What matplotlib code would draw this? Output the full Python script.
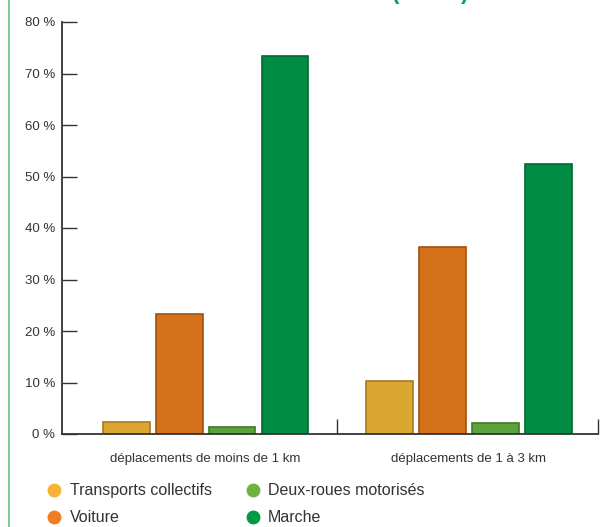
import matplotlib.pyplot as plt
from matplotlib.lines import Line2D
import numpy as np

categories = ['déplacements de moins de 1 km', 'déplacements de 1 à 3 km']
modes = ['Transports collectifs', 'Voiture', 'Deux-roues motorisés', 'Marche']
transports_collectifs = [2.3, 10.3]
voiture = [23.3, 36.3]
deux_roues = [1.4, 2.1]
marche = [73.4, 52.4]
yticks = [0, 10, 20, 30, 40, 50, 60, 70, 80]

series = [transports_collectifs, voiture, deux_roues, marche]
bar_colors = ['#dca632', '#d5701b', '#5ba33a', '#008c43']
edge_colors = ['#a87a1e', '#a0520f', '#3f7a25', '#006a30']
dot_colors = ['#f9b233', '#ef7d22', '#6db33f', '#009a44']

plt.rcParams['font.family'] = ['Liberation Sans', 'DejaVu Sans']

fig = plt.figure(figsize=(6.14, 5.27), dpi=100)
ax = fig.add_axes([62 / 614, 1 - 434 / 527, 536 / 614, 412 / 527])

x = np.arange(len(categories))
width = 0.178
step = 0.201
for i, vals in enumerate(series):
    ax.bar(x + (i - 1.5) * step, vals, width, color=bar_colors[i],
           edgecolor=edge_colors[i], linewidth=1.2, zorder=2)

ax.set_xlim(-0.545, 1.49)
ax.set_ylim(0, 80)
ax.set_yticks(yticks)
ax.set_yticklabels([f'{v} %' for v in yticks], fontsize=9.5, color='#333333')
ax.tick_params(axis='y', direction='in', length=11, width=1, color='#333333', pad=5)

# ticks on the category boundaries, pointing up
ax.set_xticks([0.499, 1.49], minor=True)
ax.set_xticks(x)
ax.set_xticklabels(categories, fontsize=9.5, color='#333333')
ax.tick_params(axis='x', which='major', length=0, pad=14)
ax.tick_params(axis='x', which='minor', direction='in', length=11, width=1, color='#333333')

for s in ['top', 'right']:
    ax.spines[s].set_visible(False)
for s in ['left', 'bottom']:
    ax.spines[s].set_color('#333333')
    ax.spines[s].set_linewidth(1.3)

handles = [Line2D([], [], marker='o', linestyle='none', markersize=10,
                  markerfacecolor=c, markeredgecolor='none') for c in dot_colors]
fig.legend(handles, modes, loc='upper left', bbox_to_anchor=(36 / 614, 1 - 477 / 527),
           ncol=2, frameon=False, fontsize=11.5, handlelength=1.5, handletextpad=0.2,
           columnspacing=1.85, labelspacing=0.75, borderaxespad=0,
           labelcolor='#333333')

# green frame line on the left edge and clipped heading above
fig.add_artist(Line2D([9 / 614, 9 / 614], [0, 1], color='#7dcb8f', linewidth=1.5))
fig.text(430 / 614, 1.012, '( 2010 )', color='#00a651', fontsize=16,
         fontweight='bold', ha='center', va='center')

fig.savefig('out.png', dpi=100)
